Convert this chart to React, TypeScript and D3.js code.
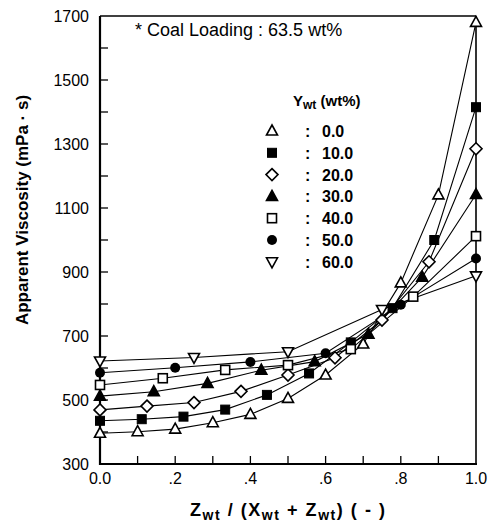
import React from "react";
import * as d3 from "d3";

const seriesLabels = ["0.0", "10.0", "20.0", "30.0", "40.0", "50.0", "60.0"];
const markerKinds = ["triUp", "squareFilled", "diamond", "triFilled", "squareOpen", "circleFilled", "triDown"];

const s0x = [0, 0.1, 0.2, 0.3, 0.4, 0.5, 0.6, 0.7, 0.8, 0.9, 1.0];
const s0y = [396, 401, 409, 429, 455, 505, 578, 675, 866, 1141, 1680];
const s10x = [0, 0.111, 0.222, 0.333, 0.444, 0.556, 0.667, 0.778, 0.889, 1.0];
const s10y = [435, 440, 448, 470, 516, 583, 680, 787, 1000, 1415];
const s20x = [0, 0.125, 0.25, 0.375, 0.5, 0.625, 0.75, 0.875, 1.0];
const s20y = [469, 481, 492, 527, 578, 632, 750, 932, 1285];
const s30x = [0, 0.143, 0.286, 0.429, 0.571, 0.714, 0.857, 1.0];
const s30y = [512, 526, 552, 593, 620, 706, 884, 1142];
const s40x = [0, 0.167, 0.333, 0.5, 0.667, 0.833, 1.0];
const s40y = [547, 568, 594, 609, 659, 823, 1012];
const s50x = [0, 0.2, 0.4, 0.6, 0.8, 1.0];
const s50y = [585, 601, 619, 646, 798, 942];
const s60x = [0, 0.25, 0.5, 0.75, 1.0];
const s60y = [622, 633, 651, 783, 888];

const seriesX = [s0x, s10x, s20x, s30x, s40x, s50x, s60x];
const seriesY = [s0y, s10y, s20y, s30y, s40y, s50y, s60y];

const xTickValues = [0, 0.2, 0.4, 0.6, 0.8, 1.0];
const xTickLabels = ["0.0", ".2", ".4", ".6", ".8", "1.0"];
const xMinorTicks = [0.1, 0.2, 0.3, 0.4, 0.5, 0.6, 0.7, 0.8, 0.9];
const yTickValues = [300, 500, 700, 900, 1100, 1300, 1500, 1700];
const yMinorTicks = [400, 500, 600, 700, 800, 900, 1000, 1100, 1200, 1300, 1400, 1500, 1600];

const W = 490, H = 532;
const M = { left: 100, right: 476, top: 16, bottom: 464 };
const FONT = "'Liberation Sans', Arial, Helvetica, sans-serif";

function Marker({ kind, x, y }: { kind: string; x: number; y: number }) {
  const sw = 1.6;
  switch (kind) {
    case "triUp":
      return <path d={`M${x},${y - 6}L${x + 5.5},${y + 4}L${x - 5.5},${y + 4}Z`} fill="white" stroke="black" strokeWidth={sw} />;
    case "triFilled":
      return <path d={`M${x},${y - 6}L${x + 5.5},${y + 4}L${x - 5.5},${y + 4}Z`} fill="black" stroke="black" strokeWidth={sw} />;
    case "triDown":
      return <path d={`M${x},${y + 6}L${x + 5.5},${y - 4}L${x - 5.5},${y - 4}Z`} fill="white" stroke="black" strokeWidth={sw} />;
    case "squareFilled":
      return <rect x={x - 4.5} y={y - 4.5} width={9} height={9} fill="black" stroke="black" strokeWidth={1} />;
    case "squareOpen":
      return <rect x={x - 4.5} y={y - 4.5} width={9} height={9} fill="white" stroke="black" strokeWidth={sw} />;
    case "diamond":
      return <path d={`M${x},${y - 6}L${x + 6},${y}L${x},${y + 6}L${x - 6},${y}Z`} fill="white" stroke="black" strokeWidth={sw} />;
    case "circleFilled":
      return <circle cx={x} cy={y} r={5} fill="black" />;
    default:
      return null;
  }
}

export default function App() {
  const x = d3.scaleLinear().domain([0, 1]).range([M.left, M.right]);
  const y = d3.scaleLinear().domain([300, 1700]).range([M.bottom, M.top]);
  const line = d3.line<[number, number]>().x((d) => x(d[0])).y((d) => y(d[1]));

  const legendX = 272;
  const legendY0 = 131;
  const legendDy = 21.8;

  return (
    <svg width={W} height={H} style={{ position: "absolute", left: 0, top: 0, background: "white" }} fontFamily={FONT}>
      <rect width={W} height={H} fill="white" />
      {seriesX.map((xs, i) => (
        <path key={"l" + i} d={line(xs.map((v, j) => [v, seriesY[i][j]]) as [number, number][]) || ""} fill="none" stroke="black" strokeWidth={1.1} />
      ))}
      <line x1={M.left} y1={M.top} x2={M.right} y2={M.top} stroke="black" strokeWidth={1.6} />
      <line x1={M.right} y1={M.top} x2={M.right} y2={M.bottom} stroke="black" strokeWidth={1.6} />
      <line x1={M.left} y1={M.top} x2={M.left} y2={M.bottom + 1} stroke="black" strokeWidth={2.2} />
      <line x1={M.left - 1} y1={M.bottom} x2={M.right + 1} y2={M.bottom} stroke="black" strokeWidth={2.2} />
      {xMinorTicks.map((t) => (
        <line key={"xt" + t} x1={x(t)} x2={x(t)} y1={M.bottom} y2={M.bottom - 8} stroke="black" strokeWidth={1.3} />
      ))}
      {xTickValues.map((t, i) => (
        <text key={"xl" + t} x={x(t)} y={484} textAnchor="middle" fontSize={16} fill="black">{xTickLabels[i]}</text>
      ))}
      {yMinorTicks.map((t) => (
        <line key={"yt" + t} x1={M.left} x2={M.left + 8} y1={y(t)} y2={y(t)} stroke="black" strokeWidth={1.3} />
      ))}
      {yTickValues.map((t) => (
        <text key={"yl" + t} x={89} y={y(t) + 6} textAnchor="end" fontSize={16} fill="black">{t}</text>
      ))}
      {seriesX.map((xs, i) =>
        xs.map((v, j) => <Marker key={"m" + i + "_" + j} kind={markerKinds[i]} x={x(v)} y={y(seriesY[i][j])} />)
      )}
      <text x={135} y={36} fontSize={18} fill="black">* Coal Loading : 63.5 wt%</text>
      <text x={293} y={106} fontSize={15} fontWeight="bold" fill="black">
        Y<tspan fontSize={12} dy={3}>wt</tspan><tspan dy={-3}> (wt%)</tspan>
      </text>
      {seriesLabels.map((lab, i) => {
        const ly = legendY0 + i * legendDy;
        return (
          <g key={"lg" + i}>
            <Marker kind={markerKinds[i]} x={legendX} y={ly} />
            <text x={305} y={ly + 6} fontSize={16} fontWeight="bold" fill="black">:</text>
            <text x={322} y={ly + 6} fontSize={16} fontWeight="bold" fill="black">{lab}</text>
          </g>
        );
      })}
      <text x={190} y={516} fontSize={18} fontWeight="bold" fill="black" textLength={195} lengthAdjust="spacing">
        Z<tspan fontSize={14} dy={4}>wt</tspan>
        <tspan dy={-4}> / (X</tspan>
        <tspan fontSize={14} dy={4}>wt</tspan>
        <tspan dy={-4}> + Z</tspan>
        <tspan fontSize={14} dy={4}>wt</tspan>
        <tspan dy={-4}>)   ( - )</tspan>
      </text>
      <text transform={`translate(28,210) rotate(-90)`} textAnchor="middle" fontSize={17} fontWeight="bold" fill="black">
        Apparent Viscosity  (mPa · s)
      </text>
    </svg>
  );
}
